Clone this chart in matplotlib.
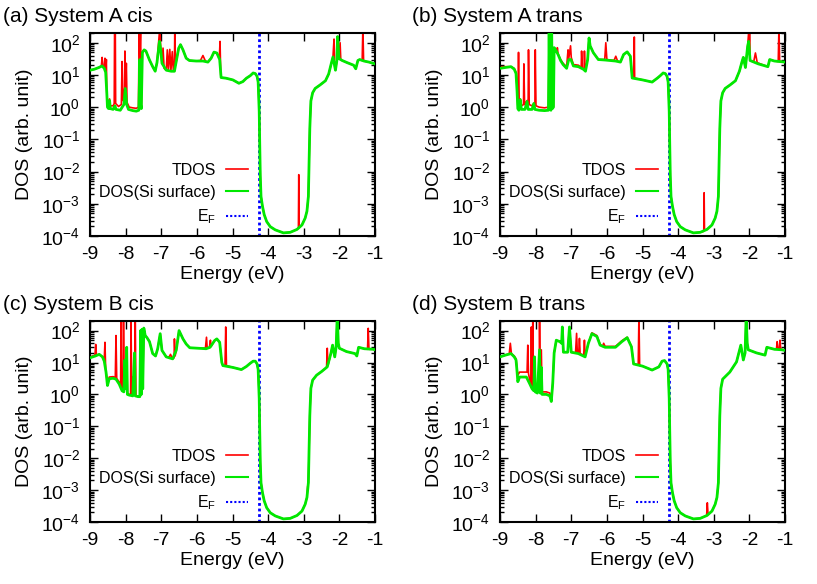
import matplotlib
matplotlib.use('Agg')
import matplotlib.pyplot as plt
from matplotlib.ticker import LogLocator, NullFormatter
from matplotlib.lines import Line2D

plt.rcParams['font.family'] = ['Liberation Sans', 'DejaVu Sans']
plt.rcParams['mathtext.fontset'] = 'custom'
plt.rcParams['mathtext.rm'] = 'Liberation Sans'
plt.rcParams['mathtext.it'] = 'Liberation Sans:italic'
plt.rcParams['axes.unicode_minus'] = False

# (energy eV, DOS)
si_a = [(-9.00, 14), (-8.88, 15), (-8.75, 17), (-8.66, 19), (-8.60, 16), (-8.56, 12), (-8.53, 3), (-8.51, 1.0),
        (-8.48, 0.9), (-8.45, 1.6), (-8.43, 0.9), (-8.35, 0.85), (-8.30, 1.1), (-8.27, 0.85), (-8.15, 0.8),
        (-8.05, 1.2), (-8.01, 3.8), (-7.97, 1.2), (-7.92, 0.85), (-7.80, 0.78), (-7.70, 0.75), (-7.63, 0.8),
        (-7.60, 30), (-7.58, 1.2), (-7.56, 0.9), (-7.53, 50), (-7.48, 60), (-7.43, 55), (-7.33, 29), (-7.24, 18),
        (-7.17, 13), (-7.12, 24), (-7.05, 110), (-7.01, 54), (-6.98, 23), (-6.86, 14), (-6.72, 13), (-6.63, 13),
        (-6.58, 26), (-6.51, 68), (-6.46, 87), (-6.39, 60), (-6.30, 33), (-6.21, 28), (-6.02, 27), (-5.83, 27),
        (-5.69, 25), (-5.60, 33), (-5.52, 51), (-5.44, 48), (-5.36, 30), (-5.32, 8.3), (-5.18, 7.9), (-4.99, 7.0),
        (-4.82, 5.5), (-4.71, 6.2), (-4.61, 7.9), (-4.50, 9.5), (-4.42, 11.5), (-4.36, 11), (-4.31, 9), (-4.28, 6),
        (-4.25, 0.74), (-4.235, 0.066), (-4.22, 7.4e-3), (-4.20, 1.7e-3), (-4.16, 8.5e-4), (-4.11, 4.6e-4),
        (-4.04, 2.8e-4), (-3.94, 1.95e-4), (-3.80, 1.55e-4), (-3.57, 1.25e-4), (-3.38, 1.3e-4), (-3.19, 1.6e-4),
        (-3.05, 2.2e-4), (-2.96, 3.6e-4), (-2.91, 5.9e-4), (-2.87, 1.7e-3), (-2.85, 0.02), (-2.83, 0.22),
        (-2.80, 1.55), (-2.75, 2.8), (-2.68, 3.8), (-2.54, 4.9), (-2.39, 6.6), (-2.30, 10.7), (-2.23, 22),
        (-2.18, 36), (-2.11, 14), (-2.07, 28), (-2.05, 155), (-2.01, 32), (-1.92, 28), (-1.78, 24), (-1.60, 20),
        (-1.54, 15.5), (-1.48, 28), (-1.43, 30), (-1.31, 27), (-1.17, 25), (-1.00, 22)]

tdos_a = [(-9.00, 14), (-8.88, 15), (-8.75, 17), (-8.68, 19), (-8.66, 35), (-8.64, 19), (-8.60, 17), (-8.58, 33),
          (-8.56, 13), (-8.54, 30), (-8.53, 3), (-8.51, 1.2), (-8.45, 1.8), (-8.43, 1.1), (-8.35, 1.1), (-8.32, 1.3),
          (-8.31, 300), (-8.29, 300), (-8.28, 1.3), (-8.20, 1.05), (-8.12, 1.2), (-8.10, 26), (-8.08, 1.6),
          (-8.03, 4), (-8.02, 55), (-8.00, 4), (-7.98, 23), (-7.96, 1.4), (-7.90, 1.0), (-7.80, 0.95), (-7.70, 0.92),
          (-7.64, 1.0), (-7.62, 300), (-7.60, 30), (-7.58, 300), (-7.56, 1.0), (-7.53, 50), (-7.48, 60), (-7.43, 55),
          (-7.33, 29), (-7.24, 18), (-7.17, 13), (-7.12, 24), (-7.04, 300), (-7.01, 54), (-6.98, 23), (-6.95, 68),
          (-6.92, 16), (-6.86, 14), (-6.83, 60), (-6.80, 14), (-6.76, 62), (-6.73, 13), (-6.69, 53), (-6.66, 13),
          (-6.63, 13), (-6.62, 300), (-6.60, 20), (-6.58, 26), (-6.51, 68), (-6.46, 87), (-6.39, 60), (-6.30, 33),
          (-6.21, 28), (-6.02, 27), (-5.90, 28), (-5.83, 40), (-5.76, 27), (-5.69, 25), (-5.60, 33), (-5.52, 51),
          (-5.44, 48), (-5.37, 32), (-5.35, 110), (-5.33, 10), (-5.32, 8.3), (-5.18, 7.9), (-4.99, 7.0),
          (-4.82, 5.5), (-4.71, 6.2), (-4.61, 7.9), (-4.50, 9.5), (-4.42, 11.5), (-4.36, 11), (-4.31, 9), (-4.28, 6),
          (-4.25, 0.74), (-4.235, 0.066), (-4.22, 7.4e-3), (-4.20, 1.7e-3), (-4.16, 8.5e-4), (-4.11, 4.6e-4),
          (-4.04, 2.8e-4), (-3.94, 1.95e-4), (-3.80, 1.55e-4), (-3.57, 1.25e-4), (-3.38, 1.3e-4), (-3.19, 1.6e-4),
          (-3.15, 1.75e-4), (-3.14, 8e-3), (-3.13, 1.8e-4), (-3.05, 2.2e-4), (-2.96, 3.6e-4), (-2.91, 5.9e-4),
          (-2.87, 1.7e-3), (-2.85, 0.02), (-2.83, 0.22), (-2.80, 1.55), (-2.75, 2.8), (-2.68, 3.8), (-2.54, 4.9),
          (-2.39, 6.6), (-2.30, 10.7), (-2.23, 22), (-2.18, 36), (-2.15, 130), (-2.13, 18), (-2.11, 14),
          (-2.07, 28), (-2.05, 155), (-2.01, 32), (-1.98, 100), (-1.96, 29), (-1.92, 28), (-1.78, 24), (-1.60, 20),
          (-1.54, 15.5), (-1.48, 28), (-1.43, 30), (-1.36, 28), (-1.34, 300), (-1.32, 27), (-1.17, 25),
          (-1.00, 22)]

si_b = [(-9.00, 16), (-8.85, 17), (-8.69, 18), (-8.60, 15), (-8.55, 11), (-8.52, 3), (-8.50, 0.9), (-8.47, 0.8),
        (-8.43, 1.7), (-8.40, 0.85), (-8.30, 0.85), (-8.24, 1.5), (-8.21, 0.85), (-8.10, 0.85), (-8.05, 1.3),
        (-8.02, 0.85), (-7.90, 0.8), (-7.75, 0.78), (-7.64, 0.8), (-7.62, 300), (-7.60, 0.9), (-7.57, 0.8),
        (-7.55, 300), (-7.53, 0.9), (-7.50, 1.0), (-7.48, 70), (-7.44, 60), (-7.37, 43), (-7.30, 28), (-7.23, 21),
        (-7.13, 16), (-7.07, 30), (-7.01, 30), (-6.94, 19), (-6.80, 18), (-6.66, 15), (-6.60, 13), (-6.54, 30),
        (-6.50, 140), (-6.47, 80), (-6.38, 49), (-6.24, 30), (-6.05, 29), (-5.76, 27), (-5.62, 25), (-5.53, 43),
        (-5.43, 52), (-5.34, 38), (-5.29, 8), (-5.00, 7), (-4.73, 6), (-4.58, 8), (-4.50, 9.5), (-4.42, 11.5),
        (-4.36, 11), (-4.31, 9), (-4.28, 6), (-4.25, 0.74), (-4.235, 0.066), (-4.22, 7.4e-3), (-4.20, 1.7e-3),
        (-4.16, 8.5e-4), (-4.11, 4.6e-4), (-4.04, 2.8e-4), (-3.94, 1.95e-4), (-3.80, 1.55e-4), (-3.57, 1.25e-4),
        (-3.38, 1.3e-4), (-3.19, 1.6e-4), (-3.05, 2.2e-4), (-2.96, 3.6e-4), (-2.91, 5.9e-4), (-2.87, 1.7e-3),
        (-2.85, 0.02), (-2.83, 0.22), (-2.80, 1.55), (-2.75, 2.8), (-2.68, 3.8), (-2.54, 4.9), (-2.39, 6.6),
        (-2.28, 13), (-2.21, 25), (-2.17, 35), (-2.11, 17), (-2.05, 75), (-2.02, 110), (-1.98, 28), (-1.75, 22),
        (-1.48, 18), (-1.43, 30), (-1.30, 27), (-1.00, 25)]

tdos_b = [(-9.00, 18), (-8.85, 18), (-8.69, 18), (-8.60, 16), (-8.55, 12), (-8.52, 4), (-8.50, 1.1), (-8.48, 50),
          (-8.46, 1.1), (-8.43, 1.8), (-8.40, 1.1), (-8.34, 1.2), (-8.33, 22), (-8.31, 1.2), (-8.24, 1.6),
          (-8.21, 1.2), (-8.20, 60), (-8.18, 1.2), (-8.10, 1.1), (-8.05, 1.3), (-8.02, 1.2), (-8.01, 60),
          (-7.99, 1.1), (-7.90, 1.0), (-7.75, 0.95), (-7.64, 1.0), (-7.62, 300), (-7.60, 0.9), (-7.57, 0.9),
          (-7.55, 300), (-7.53, 0.9), (-7.50, 1.0), (-7.48, 70), (-7.44, 60), (-7.40, 50), (-7.39, 70), (-7.37, 45),
          (-7.30, 30), (-7.23, 23), (-7.13, 18), (-7.09, 60), (-7.07, 32), (-7.02, 80), (-7.00, 35), (-6.94, 21),
          (-6.80, 20), (-6.72, 17), (-6.71, 55), (-6.69, 16), (-6.64, 15), (-6.63, 55), (-6.61, 14), (-6.54, 30),
          (-6.50, 140), (-6.47, 80), (-6.38, 49), (-6.24, 30), (-6.06, 30), (-6.03, 100), (-6.00, 30),
          (-5.80, 28), (-5.75, 38), (-5.70, 27), (-5.62, 25), (-5.53, 43), (-5.43, 52), (-5.34, 38), (-5.29, 8.5),
          (-5.24, 8.5), (-5.23, 150), (-5.22, 8), (-5.00, 7), (-4.73, 6), (-4.58, 8), (-4.50, 9.5), (-4.42, 11.5),
          (-4.36, 11), (-4.31, 9), (-4.28, 6), (-4.25, 0.74), (-4.235, 0.066), (-4.22, 7.4e-3), (-4.20, 1.7e-3),
          (-4.16, 8.5e-4), (-4.11, 4.6e-4), (-4.04, 2.8e-4), (-3.94, 1.95e-4), (-3.80, 1.55e-4), (-3.57, 1.25e-4),
          (-3.38, 1.3e-4), (-3.28, 1.4e-4), (-3.27, 2.2e-3), (-3.26, 1.5e-4), (-3.19, 1.6e-4), (-3.05, 2.2e-4),
          (-2.96, 3.6e-4), (-2.91, 5.9e-4), (-2.87, 1.7e-3), (-2.85, 0.02), (-2.83, 0.22), (-2.80, 1.55),
          (-2.75, 2.8), (-2.68, 3.8), (-2.54, 4.9), (-2.39, 6.6), (-2.28, 13), (-2.21, 25), (-2.17, 35),
          (-2.11, 17), (-2.05, 75), (-2.01, 300), (-1.99, 300), (-1.98, 28), (-1.88, 25), (-1.83, 48), (-1.78, 24),
          (-1.48, 18), (-1.43, 30), (-1.30, 27), (-1.19, 26), (-1.17, 300), (-1.15, 26), (-1.00, 25)]

si_c = [(-9.00, 14), (-8.85, 16), (-8.74, 18), (-8.65, 15), (-8.60, 11), (-8.55, 5), (-8.51, 1.9), (-8.46, 3.1),
        (-8.35, 3.2), (-8.27, 3.0), (-8.18, 2.1), (-8.10, 1.3), (-8.05, 1.2), (-8.02, 12), (-8.00, 1.5),
        (-7.97, 30), (-7.95, 1.0), (-7.90, 0.95), (-7.80, 0.9), (-7.75, 20), (-7.73, 0.9), (-7.65, 0.85),
        (-7.60, 0.85), (-7.58, 100), (-7.56, 1.0), (-7.54, 110), (-7.52, 1.5), (-7.49, 120), (-7.45, 70),
        (-7.40, 60), (-7.33, 45), (-7.24, 19), (-7.16, 16), (-7.10, 27), (-7.03, 80), (-6.98, 24), (-6.86, 15),
        (-6.68, 13), (-6.58, 24), (-6.50, 100), (-6.39, 55), (-6.30, 38), (-6.20, 29), (-5.74, 27), (-5.63, 30),
        (-5.50, 49), (-5.44, 55), (-5.36, 43), (-5.30, 10), (-5.27, 8), (-4.99, 7), (-4.75, 6), (-4.61, 7.5),
        (-4.50, 9.5), (-4.42, 11), (-4.36, 11), (-4.31, 9), (-4.28, 6), (-4.25, 0.74), (-4.235, 0.066),
        (-4.22, 7.4e-3), (-4.20, 1.7e-3), (-4.16, 8.5e-4), (-4.11, 4.6e-4), (-4.04, 2.8e-4), (-3.94, 1.95e-4),
        (-3.80, 1.55e-4), (-3.57, 1.25e-4), (-3.38, 1.3e-4), (-3.19, 1.6e-4), (-3.05, 2.2e-4), (-2.96, 3.6e-4),
        (-2.91, 5.9e-4), (-2.87, 1.7e-3), (-2.85, 0.02), (-2.83, 0.22), (-2.80, 1.55), (-2.75, 2.8), (-2.64, 4),
        (-2.50, 5.2), (-2.34, 7.3), (-2.24, 19), (-2.19, 35), (-2.13, 15), (-2.09, 31), (-2.06, 300), (-2.03, 40),
        (-2.00, 28), (-1.80, 22), (-1.56, 19), (-1.51, 16), (-1.46, 30), (-1.30, 27), (-1.05, 26), (-1.00, 25)]

tdos_c = [(-9.00, 15), (-8.86, 17), (-8.84, 37), (-8.82, 17), (-8.74, 18), (-8.65, 15), (-8.60, 12), (-8.58, 43),
          (-8.56, 6), (-8.55, 5), (-8.51, 2.2), (-8.46, 3.5), (-8.35, 3.6), (-8.29, 3.4), (-8.27, 70), (-8.25, 3.2),
          (-8.18, 2.4), (-8.14, 1.8), (-8.13, 300), (-8.11, 1.6), (-8.07, 1.4), (-8.06, 300), (-8.04, 1.3),
          (-8.02, 12), (-8.00, 1.5), (-7.97, 30), (-7.95, 1.1), (-7.90, 1.0), (-7.86, 1.0), (-7.85, 300),
          (-7.83, 1.0), (-7.80, 3.5), (-7.78, 0.95), (-7.75, 20), (-7.74, 0.95), (-7.73, 300), (-7.71, 0.9),
          (-7.65, 0.9), (-7.60, 0.9), (-7.58, 100), (-7.56, 1.0), (-7.54, 110), (-7.52, 1.5), (-7.49, 120),
          (-7.45, 70), (-7.40, 60), (-7.33, 45), (-7.24, 19), (-7.16, 16), (-7.10, 27), (-7.03, 80), (-6.98, 24),
          (-6.86, 15), (-6.78, 15), (-6.74, 18), (-6.70, 14), (-6.68, 13), (-6.64, 14), (-6.63, 55), (-6.61, 16),
          (-6.58, 24), (-6.50, 100), (-6.39, 55), (-6.30, 38), (-6.20, 29), (-5.76, 28), (-5.73, 62), (-5.71, 28),
          (-5.65, 29), (-5.62, 50), (-5.60, 32), (-5.50, 49), (-5.44, 55), (-5.36, 43), (-5.30, 10), (-5.27, 8),
          (-5.21, 8), (-5.19, 130), (-5.17, 8), (-4.99, 7), (-4.75, 6), (-4.61, 7.5), (-4.50, 9.5), (-4.42, 11),
          (-4.36, 11), (-4.31, 9), (-4.28, 6), (-4.25, 0.74), (-4.235, 0.066), (-4.22, 7.4e-3), (-4.20, 1.7e-3),
          (-4.16, 8.5e-4), (-4.11, 4.6e-4), (-4.04, 2.8e-4), (-3.94, 1.95e-4), (-3.80, 1.55e-4), (-3.57, 1.25e-4),
          (-3.38, 1.3e-4), (-3.19, 1.6e-4), (-3.05, 2.2e-4), (-2.96, 3.6e-4), (-2.91, 5.9e-4), (-2.89, 1.3e-3),
          (-2.87, 1.7e-3), (-2.85, 0.02), (-2.83, 0.22), (-2.80, 1.55), (-2.75, 2.8), (-2.64, 4), (-2.50, 5.2),
          (-2.36, 7), (-2.34, 28), (-2.32, 8), (-2.24, 19), (-2.19, 35), (-2.13, 15), (-2.09, 31), (-2.06, 300),
          (-2.03, 40), (-2.00, 28), (-1.80, 22), (-1.56, 19), (-1.51, 16), (-1.46, 30), (-1.30, 27), (-1.21, 26),
          (-1.19, 118), (-1.17, 26), (-1.05, 26), (-1.00, 25)]

si_d = [(-9.00, 15), (-8.85, 17), (-8.69, 19), (-8.60, 15), (-8.55, 12), (-8.52, 5), (-8.50, 2.5), (-8.45, 3.5),
        (-8.26, 3.5), (-8.17, 2.2), (-8.10, 1.5), (-8.05, 1.3), (-8.03, 15), (-8.01, 1.2), (-7.95, 1.1),
        (-7.89, 25), (-7.87, 1.1), (-7.84, 7), (-7.82, 1.0), (-7.70, 1.0), (-7.60, 0.9), (-7.56, 0.6), (-7.52, 2.2),
        (-7.48, 20), (-7.42, 50), (-7.32, 45), (-7.27, 40), (-7.25, 130), (-7.22, 21), (-7.10, 21), (-7.05, 130),
        (-7.00, 21), (-6.80, 19), (-6.61, 15), (-6.52, 40), (-6.42, 80), (-6.28, 65), (-6.19, 35), (-6.05, 30),
        (-5.76, 30), (-5.58, 45), (-5.43, 60), (-5.31, 31), (-5.25, 9), (-5.00, 7.7), (-4.73, 5.8), (-4.54, 7.3),
        (-4.45, 11), (-4.38, 11.5), (-4.31, 9), (-4.28, 6), (-4.25, 0.74), (-4.235, 0.066), (-4.22, 7.4e-3),
        (-4.20, 1.7e-3), (-4.16, 8.5e-4), (-4.11, 4.6e-4), (-4.04, 2.8e-4), (-3.94, 1.95e-4), (-3.80, 1.55e-4),
        (-3.57, 1.25e-4), (-3.38, 1.3e-4), (-3.19, 1.6e-4), (-3.05, 2.2e-4), (-2.96, 3.6e-4), (-2.91, 5.9e-4),
        (-2.87, 1.7e-3), (-2.85, 0.02), (-2.83, 0.22), (-2.80, 1.55), (-2.75, 3), (-2.55, 5), (-2.36, 10.5),
        (-2.24, 35), (-2.17, 12), (-2.12, 20), (-2.09, 300), (-2.06, 40), (-2.03, 25), (-1.80, 20), (-1.56, 17),
        (-1.51, 30), (-1.30, 26), (-1.09, 25), (-1.00, 24)]

tdos_d = [(-9.00, 15), (-8.85, 17), (-8.74, 19), (-8.71, 40), (-8.68, 19), (-8.60, 16), (-8.55, 13), (-8.52, 6),
          (-8.50, 4), (-8.45, 5), (-8.30, 5), (-8.24, 5), (-8.22, 35), (-8.20, 4.5), (-8.17, 3), (-8.13, 2),
          (-8.12, 130), (-8.11, 2), (-8.09, 1.8), (-8.08, 300), (-8.06, 1.6), (-8.03, 15), (-8.01, 1.4),
          (-7.95, 1.3), (-7.90, 1.3), (-7.89, 300), (-7.87, 1.3), (-7.84, 25), (-7.82, 1.2), (-7.70, 1.2),
          (-7.60, 1.1), (-7.56, 0.6), (-7.52, 2.2), (-7.48, 20), (-7.42, 50), (-7.32, 45), (-7.27, 40),
          (-7.25, 130), (-7.22, 21), (-7.10, 21), (-7.05, 130), (-7.00, 21), (-6.88, 20), (-6.85, 82), (-6.83, 20),
          (-6.79, 20), (-6.77, 57), (-6.75, 19), (-6.65, 17), (-6.63, 50), (-6.61, 16), (-6.52, 40), (-6.42, 85),
          (-6.28, 70), (-6.19, 37), (-6.12, 32), (-6.09, 40), (-6.05, 32), (-5.76, 32), (-5.58, 48), (-5.43, 62),
          (-5.31, 32), (-5.25, 9), (-5.12, 8.5), (-5.10, 300), (-5.08, 8), (-5.00, 7.7), (-4.73, 5.8), (-4.54, 7.3),
          (-4.45, 11), (-4.38, 11.5), (-4.31, 9), (-4.28, 6), (-4.25, 0.74), (-4.235, 0.066), (-4.22, 7.4e-3),
          (-4.20, 1.7e-3), (-4.16, 8.5e-4), (-4.11, 4.6e-4), (-4.04, 2.8e-4), (-3.94, 1.95e-4), (-3.80, 1.55e-4),
          (-3.57, 1.25e-4), (-3.38, 1.3e-4), (-3.20, 1.6e-4), (-3.18, 4e-4), (-3.16, 1.7e-4), (-3.05, 2.2e-4),
          (-2.96, 3.6e-4), (-2.91, 5.9e-4), (-2.87, 1.7e-3), (-2.85, 0.02), (-2.83, 0.22), (-2.80, 1.55),
          (-2.75, 3), (-2.55, 5), (-2.36, 10.5), (-2.24, 35), (-2.17, 12), (-2.12, 20), (-2.09, 300), (-2.06, 40),
          (-2.03, 25), (-1.80, 20), (-1.56, 17), (-1.51, 30), (-1.30, 26), (-1.24, 26), (-1.22, 45), (-1.20, 26),
          (-1.16, 27), (-1.14, 50), (-1.12, 26), (-1.00, 24)]

titles = ['(a) System A cis', '(b) System A trans', '(c) System B cis', '(d) System B trans']
e_fermi = [-4.26, -4.27, -4.26, -4.27]
xticks = [-9, -8, -7, -6, -5, -4, -3, -2, -1]
yticks = [1e-4, 1e-3, 1e-2, 1e-1, 1e0, 1e1, 1e2]
ylabels = ['10$^{-4}$', '10$^{-3}$', '10$^{-2}$', '10$^{-1}$', '10$^{0}$', '10$^{1}$', '10$^{2}$']

W, H = 817, 584
# axes boxes in pixels: left, top, right, bottom
boxes = [(90, 33, 375, 236), (500, 33, 785, 236), (90, 321, 375, 522), (500, 321, 785, 522)]
title_xy = [(3, 17), (412, 17), (3, 304), (412, 304)]

fig = plt.figure(figsize=(W / 100, H / 100), dpi=100)

panels = [(si_a, tdos_a), (si_b, tdos_b), (si_c, tdos_c), (si_d, tdos_d)]
for k, (si, tdos) in enumerate(panels):
    l, t, r, b = boxes[k]
    ax = fig.add_axes([l / W, 1 - b / H, (r - l) / W, (b - t) / H])
    te, td = zip(*tdos)
    se, sd = zip(*si)
    ax.axvline(e_fermi[k], color='#0000ff', lw=2, ls=(0, (1, 1)), zorder=1)
    ax.plot(te, td, color='#ff0000', lw=1.2, zorder=2)
    ax.plot(se, sd, color='#00e800', lw=2.0, zorder=3)
    ax.set_yscale('log')
    ax.set_xlim(-9, -1)
    ax.set_ylim(1e-4, 200)
    ax.set_xticks(xticks)
    ax.set_xticklabels([str(x) for x in xticks])
    ax.set_yticks(yticks)
    ax.set_yticklabels(ylabels)
    ax.yaxis.set_minor_locator(LogLocator(base=10, subs=range(2, 10), numticks=20))
    ax.yaxis.set_minor_formatter(NullFormatter())
    ax.tick_params(which='both', direction='in', top=True, right=True)
    ax.tick_params(which='major', length=6, width=1, labelsize=14)
    ax.tick_params(which='minor', length=3, width=1)
    ax.tick_params(axis='x', pad=7)
    ax.tick_params(axis='y', pad=7)
    for sp in ax.spines.values():
        sp.set_linewidth(1.5)
    ax.set_xlabel('Energy (eV)', fontsize=14)
    ax.set_ylabel('DOS (arb. unit)', fontsize=14)
    ax.xaxis.set_label_coords(0.5, -0.15)
    ax.yaxis.set_label_coords(-0.2, 0.5)
    handles = [Line2D([], [], color='#ff0000', lw=1.2),
               Line2D([], [], color='#00e800', lw=1.5),
               Line2D([], [], color='#0000ff', lw=1.5, ls=(0, (1, 1)))]
    ax.legend(handles, ['TDOS', 'DOS(Si surface)', 'E$_\\mathregular{F}$'], loc='lower right',
              bbox_to_anchor=(0.555, 0.05), frameon=False, markerfirst=False, fontsize=11.5,
              handlelength=1.4, handletextpad=0.6, labelspacing=0.45, borderpad=0, borderaxespad=0)
    tx, ty = title_xy[k]
    fig.text(tx / W, 1 - ty / H, titles[k], fontsize=15, ha='left', va='center')

fig.savefig('out.png', dpi=100)
